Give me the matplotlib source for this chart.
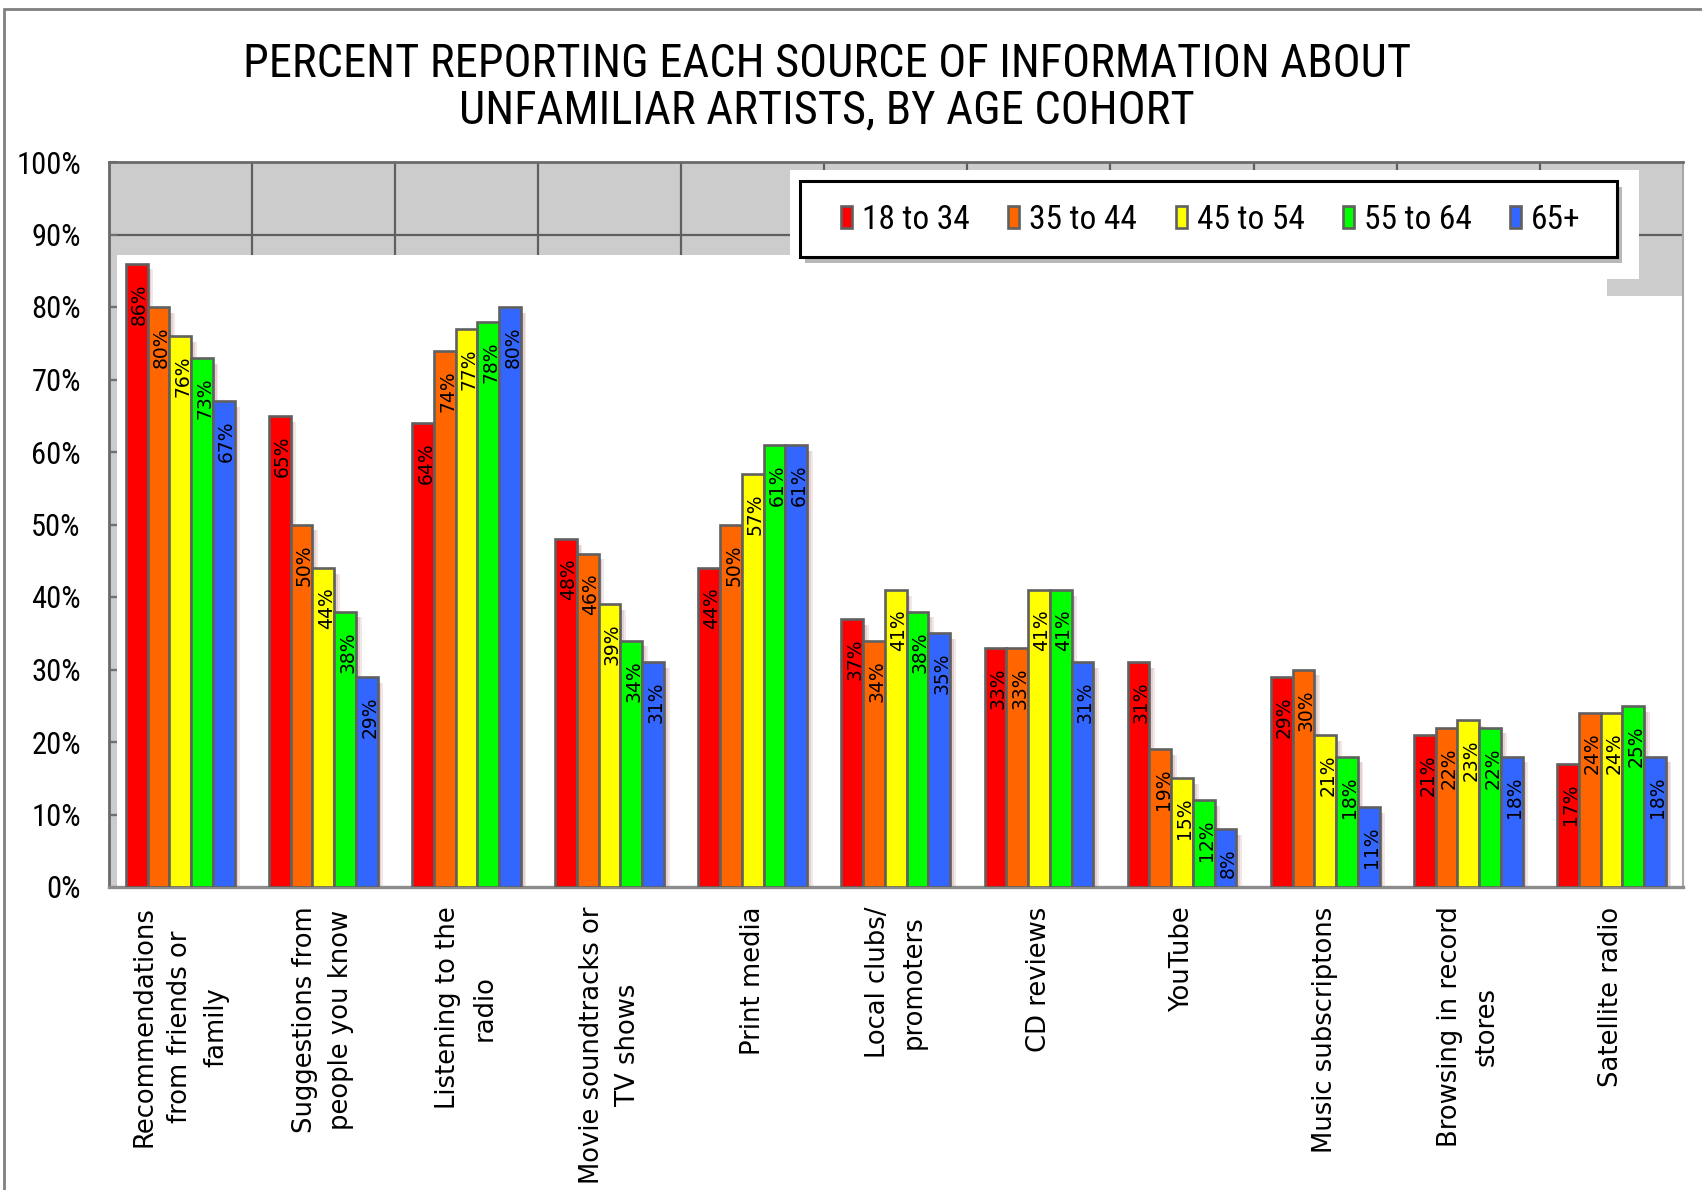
import numpy as np
import matplotlib
matplotlib.use("Agg")
import matplotlib.pyplot as plt
from matplotlib import font_manager
from matplotlib.patches import Rectangle

# --- data -----------------------------------------------------------------
categories = [
    "Recommendations\nfrom friends or\nfamily",
    "Suggestions from\npeople you know",
    "Listening to the\nradio",
    "Movie soundtracks or\nTV shows",
    "Print media",
    "Local clubs/\npromoters",
    "CD reviews",
    "YouTube",
    "Music subscriptons",
    "Browsing in record\nstores",
    "Satellite radio",
]
age_groups = ["18 to 34", "35 to 44", "45 to 54", "55 to 64", "65+"]
pct_18_34 = [86, 65, 64, 48, 44, 37, 33, 31, 29, 21, 17]
pct_35_44 = [80, 50, 74, 46, 50, 34, 33, 19, 30, 22, 24]
pct_45_54 = [76, 44, 77, 39, 57, 41, 41, 15, 21, 23, 24]
pct_55_64 = [73, 38, 78, 34, 61, 38, 41, 12, 18, 22, 25]
pct_65_up = [67, 29, 80, 31, 61, 35, 31, 8, 11, 18, 18]
yticks = [0, 10, 20, 30, 40, 50, 60, 70, 80, 90, 100]

series = [pct_18_34, pct_35_44, pct_45_54, pct_55_64, pct_65_up]
colors = ["#FF0000", "#FF6600", "#FFFF00", "#00FF00", "#3366FF"]
edge = "#606060"

# a narrow face for title / ticks / legend, whichever is installed
available = {f.name for f in font_manager.fontManager.ttflist}
narrow_candidates = ["Liberation Sans Narrow", "Roboto Condensed", "DejaVu Sans Condensed",
                     "Open Sans Condensed", "Roboto"]
narrow_name = next((n for n in narrow_candidates if n in available), "DejaVu Sans")
NARROW = [narrow_name, "DejaVu Sans"]

W, H = 1702, 1190
fig = plt.figure(figsize=(W / 100, H / 100), dpi=100)
ax = fig.add_axes([108.6 / W, 1 - 887 / H, (1683 - 108.6) / W, (887 - 162) / H])

ax.set_xlim(-0.5, len(categories) - 0.5)
ax.set_ylim(0, 100)
ax.set_facecolor("#CCCCCC")

# grid of the grey back wall (only visible where not covered)
ax.vlines(np.arange(len(categories) - 1) + 0.5, 0, 100, color="#5f5f5f", lw=1.6, zorder=0.5)
ax.hlines(yticks[1:-1], -0.5, len(categories) - 0.5, color="#5f5f5f", lw=1.6, zorder=0.5)

# white areas laid over the wall (as in the original screenshot)
ax.add_patch(Rectangle((-0.441, 0), 10.412, 87.2, facecolor="white", edgecolor="none", zorder=1))
ax.add_patch(Rectangle((9.97, 0), 0.53, 81.5, facecolor="white", edgecolor="none", zorder=1))
ax.add_patch(Rectangle((4.262, 83.8), 5.933, 15.1, facecolor="white", edgecolor="none", zorder=1))

x = np.arange(len(categories))
bw = 0.152
for i, (vals, col) in enumerate(zip(series, colors)):
    xs = x + (i - 2) * bw
    # soft pinkish shadow to the right
    for k, a in enumerate([0.5, 0.32, 0.16]):
        ax.bar(xs + bw * 0.5 + 0.013 * (k + 0.5), np.array(vals) - 0.8, width=0.013,
               bottom=0, color="#b07070", alpha=a, linewidth=0, zorder=2)
    ax.bar(xs, vals, width=bw, color=col, edgecolor=edge, linewidth=1.9, zorder=3,
           label=age_groups[i])
    for xi, v in zip(xs, vals):
        ax.text(xi + 0.02, v - 2.7, f"{v}%", rotation=90, ha="center", va="top",
                fontsize=13.5, color="black", zorder=5)

# axes styling
for s in ["left", "top"]:
    ax.spines[s].set_color("#6a6a6a")
    ax.spines[s].set_linewidth(2)
ax.spines["bottom"].set_color("#8c8c8c")
ax.spines["bottom"].set_linewidth(2.4)
ax.spines["right"].set_color("#a8a8a8")
ax.spines["right"].set_linewidth(1.5)

ax.set_yticks(yticks)
ax.set_yticklabels([f"{t}%" for t in yticks], family=NARROW, fontsize=22)
ax.tick_params(axis="y", direction="in", length=6, width=1.5, color="#707070", pad=20)
ax.set_xticks(x)
ax.set_xticklabels(categories, rotation=90, ha="center", va="top",
                   multialignment="center", fontsize=18.6, linespacing=1.5)
ax.tick_params(axis="x", length=0, pad=14)

# legend: box with drop shadow, entries laid inside it
lx0, ly0, lw_, lh = 800 / W, 1 - 257 / H, 817 / W, 76 / H
ax.add_patch(Rectangle((lx0 + 5 / W, ly0 - 6 / H), lw_, lh, transform=fig.transFigure,
                       facecolor="#9a9a9a", edgecolor="none", alpha=0.7,
                       clip_on=False, zorder=8))
ax.add_patch(Rectangle((lx0, ly0), lw_, lh, transform=fig.transFigure,
                       facecolor="white", edgecolor="black", linewidth=2.2,
                       clip_on=False, zorder=9))
leg = ax.legend(loc="center", bbox_to_anchor=(1211 / W, 1 - 220 / H),
                bbox_transform=fig.transFigure, ncol=5, frameon=False,
                prop={"family": NARROW, "size": 24}, handlelength=0.33,
                handleheight=0.62, handletextpad=0.3, columnspacing=1.15,
                borderpad=0, borderaxespad=0)
leg.set_zorder(10)

fig.text(827 / W, 1 - 87 / H,
         "PERCENT REPORTING EACH SOURCE OF INFORMATION ABOUT\nUNFAMILIAR ARTISTS, BY AGE COHORT",
         ha="center", va="center", family=NARROW, fontsize=33.5, linespacing=1.08)

# outer frame of the chart area
fig.patches.append(Rectangle((4 / W, -0.05), 1.2, 1.05 - 9 / H, transform=fig.transFigure,
                             fill=False, edgecolor="#808080", linewidth=2))

fig.savefig("out.png", dpi=100)
